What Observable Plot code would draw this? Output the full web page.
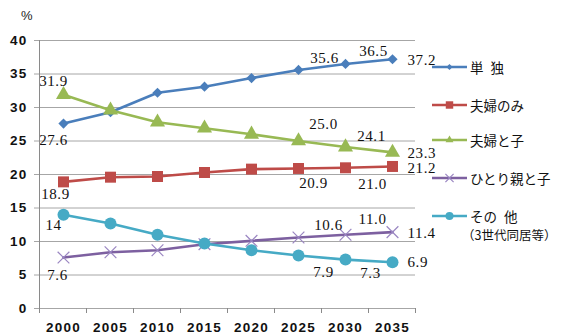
<!DOCTYPE html>
<html><head><meta charset="utf-8">
<script src="https://cdn.jsdelivr.net/npm/d3@7"></script>
<script src="https://cdn.jsdelivr.net/npm/@observablehq/plot@0.6"></script>
<style>
body{margin:0;background:#fff;}
#wrap{position:relative;width:572px;height:336px;overflow:hidden;}
#pct{position:absolute;left:21px;top:8px;font-family:"Liberation Sans",sans-serif;font-size:13px;color:#222;}
.leg{position:absolute;left:432px;display:flex;align-items:flex-start;font-family:"Noto Sans CJK JP",sans-serif;font-size:13.5px;line-height:18px;color:#111;white-space:nowrap;word-spacing:4px;}
.leg svg{display:block;margin-right:2px;}
.sub{margin-left:-8px;margin-top:1px;font-size:12.5px;line-height:18.2px;}
#chart svg g[aria-label="text"] text{letter-spacing:0.6px;}
#chart svg g[aria-label="x-axis tick label"] text,
#chart svg g[aria-label="y-axis tick label"] text{letter-spacing:1.2px;}
</style></head><body>
<div id="wrap"><div id="chart"></div><div id="pct">%</div><div id="legend"></div></div>
<script>
// ---- data ----
const years = [2000, 2005, 2010, 2015, 2020, 2025, 2030, 2035];
const yTicks = [0, 5, 10, 15, 20, 25, 30, 35, 40];
const seriesNames = ["単 独", "夫婦のみ", "夫婦と子", "ひとり親と子", "その 他"];
const legendSubtitle = "（3世代同居等）";
const tandoku   = [27.6, 29.3, 32.2, 33.1, 34.4, 35.6, 36.5, 37.2];
const fufuNomi  = [18.9, 19.6, 19.7, 20.3, 20.8, 20.9, 21.0, 21.2];
const fufuKo    = [31.9, 29.6, 27.8, 26.9, 26.0, 25.0, 24.1, 23.3];
const hitorioya = [7.6, 8.4, 8.7, 9.6, 10.1, 10.6, 11.0, 11.4];
const sonota    = [14.0, 12.7, 11.0, 9.7, 8.7, 7.9, 7.3, 6.9];
const tandokuLabels   = ["27.6", "", "", "", "", "35.6", "36.5", "37.2"];
const fufuNomiLabels  = ["18.9", "", "", "", "", "20.9", "21.0", "21.2"];
const fufuKoLabels    = ["31.9", "", "", "", "", "25.0", "24.1", "23.3"];
const hitorioyaLabels = ["7.6", "", "", "", "", "10.6", "11.0", "11.4"];
const sonotaLabels    = ["14", "", "", "", "", "7.9", "7.3", "6.9"];

// ---- styles ----
const styles = [
  {color: "#4A7EBB", symbol: "diamond2", d3sym: d3.symbolDiamond2, r: 4.6, lr: 2.8,
   off: {0: [-10, 17], 5: [26, -12], 6: [28, -13], 7: [15, 1]}},
  {color: "#BE4B48", symbol: "square", d3sym: d3.symbolSquare, r: 6.2, lr: 4.2,
   off: {0: [-8, 12], 5: [15, 15], 6: [27, 16], 7: [15, 2]}},
  {color: "#98B954", symbol: "triangle", d3sym: d3.symbolTriangle2, r: 5.6, lr: 3.8,
   off: {0: [-10, -14], 5: [25, -17], 6: [26, -11], 7: [15, 1]}},
  {color: "#7D60A0", mark: "#9A86C2", symbol: "times", d3sym: d3.symbolTimes, r: 5.4, lr: 3.8,
   off: {0: [-6, 18], 5: [30, -12], 6: [27, -16], 7: [15, 1]}},
  {color: "#46AAC5", symbol: "circle", d3sym: d3.symbolCircle, r: 6, lr: 4,
   off: {0: [-10, 10], 5: [25, 17], 6: [25, 14], 7: [15, 0]}}
];
const valuesList = [tandoku, fufuNomi, fufuKo, hitorioya, sonota];
const labelsList = [tandokuLabels, fufuNomiLabels, fufuKoLabels, hitorioyaLabels, sonotaLabels];

const marks = [Plot.ruleY(yTicks, {stroke: "#a6a6a6", strokeWidth: 1, insetLeft: -5})];
valuesList.forEach((vals, s) => {
  const st = styles[s];
  const data = years.map((yr, i) => ({year: yr, value: vals[i], label: labelsList[s][i]}));
  marks.push(Plot.line(data, {x: "year", y: "value", stroke: st.color, strokeWidth: 2.6}));
  if (st.symbol === "times") {
    marks.push(Plot.dot(data, {x: "year", y: "value", symbol: "times", r: st.r, stroke: st.mark, strokeWidth: 1.2}));
  } else {
    marks.push(Plot.dot(data, {x: "year", y: "value", symbol: st.symbol, r: st.r, fill: st.color, stroke: "none"}));
  }
});
valuesList.forEach((vals, s) => {
  const st = styles[s];
  years.forEach((yr, i) => {
    const t = labelsList[s][i];
    if (!t) return;
    const [dx, dy] = st.off[i];
    marks.push(Plot.text([{year: yr, value: vals[i], label: t}], {
      x: "year", y: "value", text: "label", dx, dy,
      textAnchor: i === 7 ? "start" : "middle",
      fontFamily: "Liberation Serif", fontSize: 15, fontWeight: "normal", fill: "#111"
    }));
  });
});

const chart = Plot.plot({
  width: 572, height: 336,
  marginLeft: 39, marginRight: 157, marginTop: 40, marginBottom: 28,
  style: {fontFamily: "Liberation Sans", fontSize: "13.5px", fontWeight: "bold", color: "#111", background: "#fff"},
  x: {type: "point", domain: years, padding: 0.5, label: null, tickSize: 0, tickPadding: 14, tickFormat: d => String(d)},
  y: {domain: [0, 40], ticks: yTicks, label: null, tickSize: 0, tickPadding: 12},
  marks
});
document.getElementById("chart").appendChild(chart);

// axis line and category boundary ticks, from the plot's scales
const xs = chart.scale("x"), ys = chart.scale("y");
const step = xs.apply(years[1]) - xs.apply(years[0]);
const xl = xs.apply(years[0]) - step / 2;
const y0 = ys.apply(0), yTop = ys.apply(40);
const svg = d3.select(chart);
const ax = svg.append("g").attr("stroke", "#8a8a8a").attr("stroke-width", 1);
ax.append("line").attr("x1", xl).attr("x2", xl).attr("y1", yTop).attr("y2", y0 + 0.5);
for (let i = 0; i <= years.length; i++) {
  const x = xl + i * step;
  ax.append("line").attr("x1", x).attr("x2", x).attr("y1", y0).attr("y2", y0 + 5);
}

// legend
const legendCenters = [67, 105, 140, 178, 216];
const leg = d3.select("#legend");
seriesNames.forEach((name, s) => {
  const st = styles[s];
  const row = leg.append("div").attr("class", "leg").style("top", (legendCenters[s] - 9) + "px");
  const sv = row.append("svg").attr("width", 36).attr("height", 18);
  sv.append("line").attr("x1", 0).attr("x2", 35).attr("y1", 9).attr("y2", 9)
    .attr("stroke", st.color).attr("stroke-width", 2.6);
  const sym = d3.symbol(st.d3sym, Math.PI * st.lr * st.lr)();
  const p = sv.append("path").attr("d", sym).attr("transform", "translate(17.5,9)");
  if (st.symbol === "times") p.attr("fill", "none").attr("stroke", st.mark).attr("stroke-width", 1.2);
  else p.attr("fill", st.color);
  const txt = row.append("div");
  txt.append("div").text(name);
  if (s === 4) txt.append("div").attr("class", "sub").text(legendSubtitle);
});
</script>
</body></html>
